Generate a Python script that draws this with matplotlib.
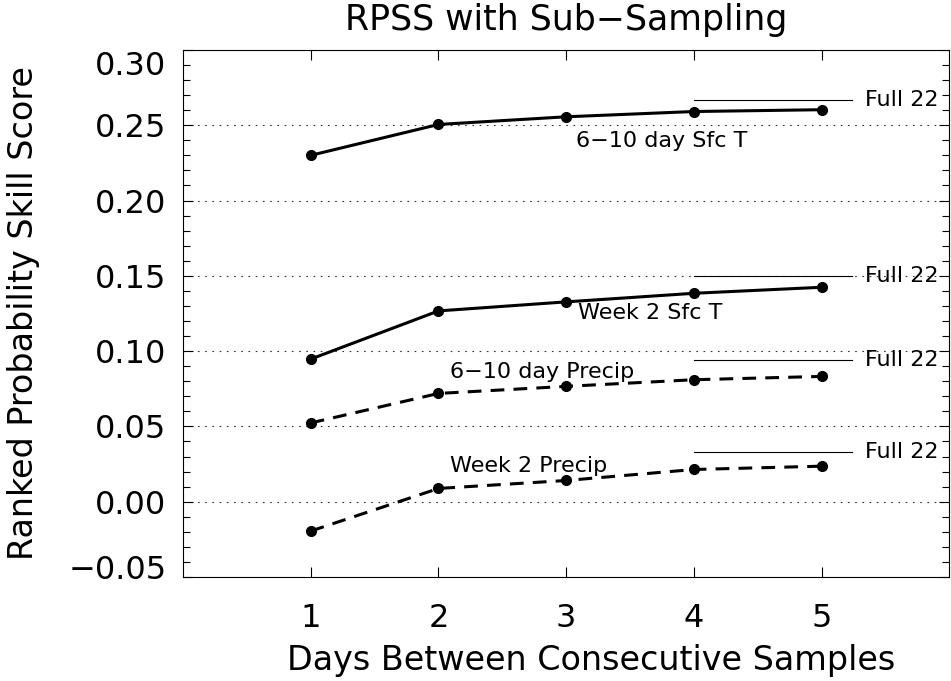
import matplotlib
matplotlib.use("Agg")
import matplotlib.pyplot as plt
import matplotlib.transforms as mtransforms
import numpy as np

# RPSS vs. spacing between consecutive samples
days = [1, 2, 3, 4, 5]
sfc_t_610 = [0.230, 0.2505, 0.2556, 0.2591, 0.2603]
sfc_t_wk2 = [0.0947, 0.1267, 0.1327, 0.1384, 0.1424]
precip_610 = [0.0523, 0.0719, 0.0766, 0.0810, 0.0832]
precip_wk2 = [-0.0195, 0.0088, 0.0141, 0.0214, 0.0236]

# scores using the full 22-member set
full22 = [0.2669, 0.1499, 0.0942, 0.0328]
full22_x = [4.0, 5.24]

series_labels = ["6\u221210 day Sfc T", "Week 2 Sfc T",
                 "6\u221210 day Precip", "Week 2 Precip"]
label_pos = [(3.08, 0.2393), (3.09, 0.1252), (2.09, 0.0858), (2.09, 0.0240)]

yticks = [-0.05, 0.00, 0.05, 0.10, 0.15, 0.20, 0.25, 0.30]
grid_levels = [0.00, 0.05, 0.10, 0.15, 0.20, 0.25]

plt.rcParams['font.family'] = ['DejaVu Sans']

fig = plt.figure(figsize=(9.51, 6.81), dpi=100)
ax = fig.add_axes([0.1924, 0.1527, 0.806, 0.774])

for g in grid_levels:
    ax.axhline(g, color='#333333', lw=0.8, ls=(0, (1.5, 5)), zorder=1)

ax.plot(days, sfc_t_610, color='black', lw=2.2, marker='o', ms=7, zorder=3)
ax.plot(days, sfc_t_wk2, color='black', lw=2.2, marker='o', ms=7, zorder=3)
ax.plot(days, precip_610, color='black', lw=2.2, marker='o', ms=7,
        dashes=(4.5, 3), zorder=3)
ax.plot(days, precip_wk2, color='black', lw=2.2, marker='o', ms=7,
        dashes=(4.5, 3), zorder=3)

for f in full22:
    ax.plot(full22_x, [f, f], color='black', lw=0.8, zorder=2)
    ax.text(5.34, f, "Full 22", fontsize=16, va='center', ha='left')

for lab, (lx, ly) in zip(series_labels, label_pos):
    ax.text(lx, ly, lab, fontsize=16, va='center', ha='left')

ax.set_xlim(0, 6)
ax.set_ylim(-0.05, 0.30)
ax.set_xticks(days)
ax.set_xticklabels([str(d) for d in days])
ax.set_yticks(yticks)
ax.set_yticklabels(["\u22120.05"] + ["%.2f" % v for v in yticks[1:]])
ax.set_yticks(np.arange(-0.05, 0.3001, 0.01), minor=True)

ax.tick_params(axis='both', which='major', direction='in', length=7.2,
               width=0.8, labelsize=23, top=True, right=True)
ax.tick_params(axis='y', which='minor', direction='in', length=5,
               width=0.8, left=True, right=True)
ax.tick_params(axis='x', which='minor', bottom=False, top=False)
ax.tick_params(axis='y', which='major', pad=12)
ax.tick_params(axis='x', which='major', pad=19)

for s in ax.spines.values():
    s.set_linewidth(0.8)

# pull the end labels inside the axis range
ylabs = ax.get_yticklabels()
ylabs[0].set_transform(ylabs[0].get_transform() +
                       mtransforms.ScaledTranslation(0, 10 / 100, fig.dpi_scale_trans))
ylabs[-1].set_transform(ylabs[-1].get_transform() +
                        mtransforms.ScaledTranslation(0, -13 / 100, fig.dpi_scale_trans))

ax.set_xlabel("Days Between Consecutive Samples", fontsize=24, labelpad=6)
ax.xaxis.set_label_coords(0.533, -0.127)
ax.set_ylabel("Ranked Probability Skill Score", fontsize=24, labelpad=20)
ax.set_title("RPSS with Sub\u2212Sampling", fontsize=25, pad=14)

fig.savefig("out.png", dpi=100)
